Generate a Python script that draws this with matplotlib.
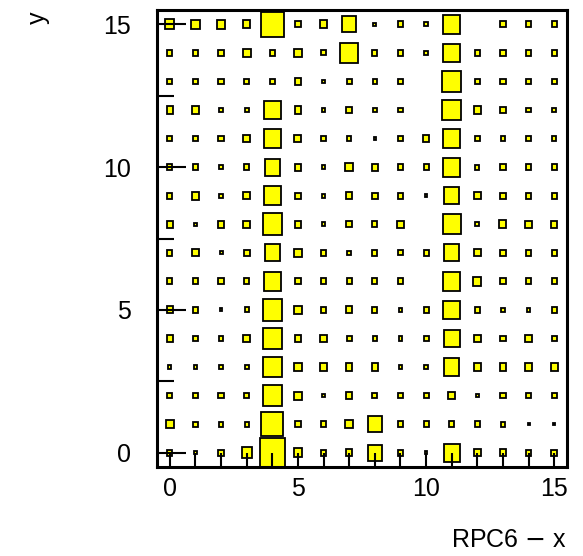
import numpy as np
import matplotlib
matplotlib.use("Agg")
import matplotlib.pyplot as plt
from matplotlib.patches import Rectangle

plt.rcParams['font.family'] = ['Liberation Sans', 'DejaVu Sans']

# strip numbers along each axis
x_bins = np.arange(16)
y_bins = np.arange(16)

# hit counts, one row per y strip (row 0 is y = 0), columns are x = 0..15
counts = np.array([
    [20, 12, 20, 38, 100, 30, 20, 25, 55, 20, 10, 62, 25, 25, 22, 22],  # y=0
    [30, 17, 17, 17, 86, 20, 20, 30, 55, 20, 20, 20, 20, 17, 8, 8],      # y=1
    [20, 20, 20, 20, 74, 28, 10, 25, 20, 20, 20, 25, 10, 20, 20, 20],    # y=2
    [12, 15, 15, 15, 73, 28, 25, 25, 25, 15, 15, 60, 25, 25, 25, 27],    # y=3
    [25, 20, 15, 25, 76, 25, 25, 20, 17, 15, 20, 62, 25, 20, 25, 20],    # y=4
    [25, 20, 10, 17, 76, 30, 20, 25, 20, 15, 20, 65, 20, 15, 15, 20],    # y=5
    [20, 20, 20, 20, 65, 20, 20, 20, 20, 20, 0, 65, 30, 20, 20, 20],     # y=6
    [20, 25, 12, 22, 60, 28, 20, 15, 20, 17, 20, 58, 25, 20, 20, 20],    # y=7
    [25, 12, 25, 25, 76, 25, 15, 22, 20, 25, 0, 70, 15, 27, 25, 25],     # y=8
    [20, 27, 15, 25, 67, 20, 15, 25, 22, 20, 10, 58, 25, 20, 20, 20],    # y=9
    [20, 20, 15, 20, 60, 25, 15, 30, 25, 20, 20, 67, 17, 20, 20, 20],    # y=10
    [20, 20, 20, 27, 67, 27, 20, 17, 10, 20, 22, 67, 20, 15, 18, 15],    # y=11
    [25, 25, 15, 15, 64, 25, 15, 22, 17, 17, 0, 72, 25, 20, 17, 15],     # y=12
    [20, 20, 20, 18, 20, 25, 12, 20, 17, 17, 0, 74, 20, 20, 20, 20],     # y=13
    [20, 20, 20, 30, 20, 30, 18, 70, 20, 20, 15, 65, 20, 20, 20, 20],    # y=14
    [35, 33, 33, 27, 88, 20, 27, 55, 12, 20, 15, 68, 0, 20, 20, 20],     # y=15
])

fig = plt.figure(figsize=(5.83, 5.56), dpi=100)
ax = fig.add_axes([157 / 583, 89 / 556, 410 / 583, 457 / 556])

# box option: box side scales with the cell content
vmax = counts.max()
for iy, yv in enumerate(y_bins):
    for ix, xv in enumerate(x_bins):
        c = counts[iy, ix]
        if c <= 0:
            continue
        s = c / vmax
        ax.add_patch(Rectangle((xv - s / 2, yv - s / 2), s, s,
                               facecolor='#ffff00', edgecolor='black',
                               linewidth=1.3, zorder=1))

ax.set_xlim(-0.5, 15.5)
ax.set_ylim(-0.5, 15.5)

ax.set_xticks([0, 5, 10, 15])
ax.set_xticks(np.arange(0, 16), minor=True)
ax.set_yticks([0, 5, 10, 15])
ax.set_yticks([2.5, 7.5, 12.5], minor=True)

ax.tick_params(axis='x', which='both', direction='in', length=10, width=1.5,
               labelsize=18, pad=7, top=False)
ax.tick_params(axis='y', which='major', direction='in', length=21, width=1.5,
               labelsize=18, pad=19, right=False)
ax.tick_params(axis='y', which='minor', direction='in', length=12, width=1.5,
               right=False)

for sp in ax.spines.values():
    sp.set_linewidth(2.2)

fig.text(567 / 583, 1 - 540 / 556, 'RPC6 $-$ x', fontsize=18,
         ha='right', va='center')
fig.text(38 / 583, 1 - 18 / 556, 'y', fontsize=18, rotation=90,
         ha='center', va='center')

fig.savefig('out.png', dpi=100)
